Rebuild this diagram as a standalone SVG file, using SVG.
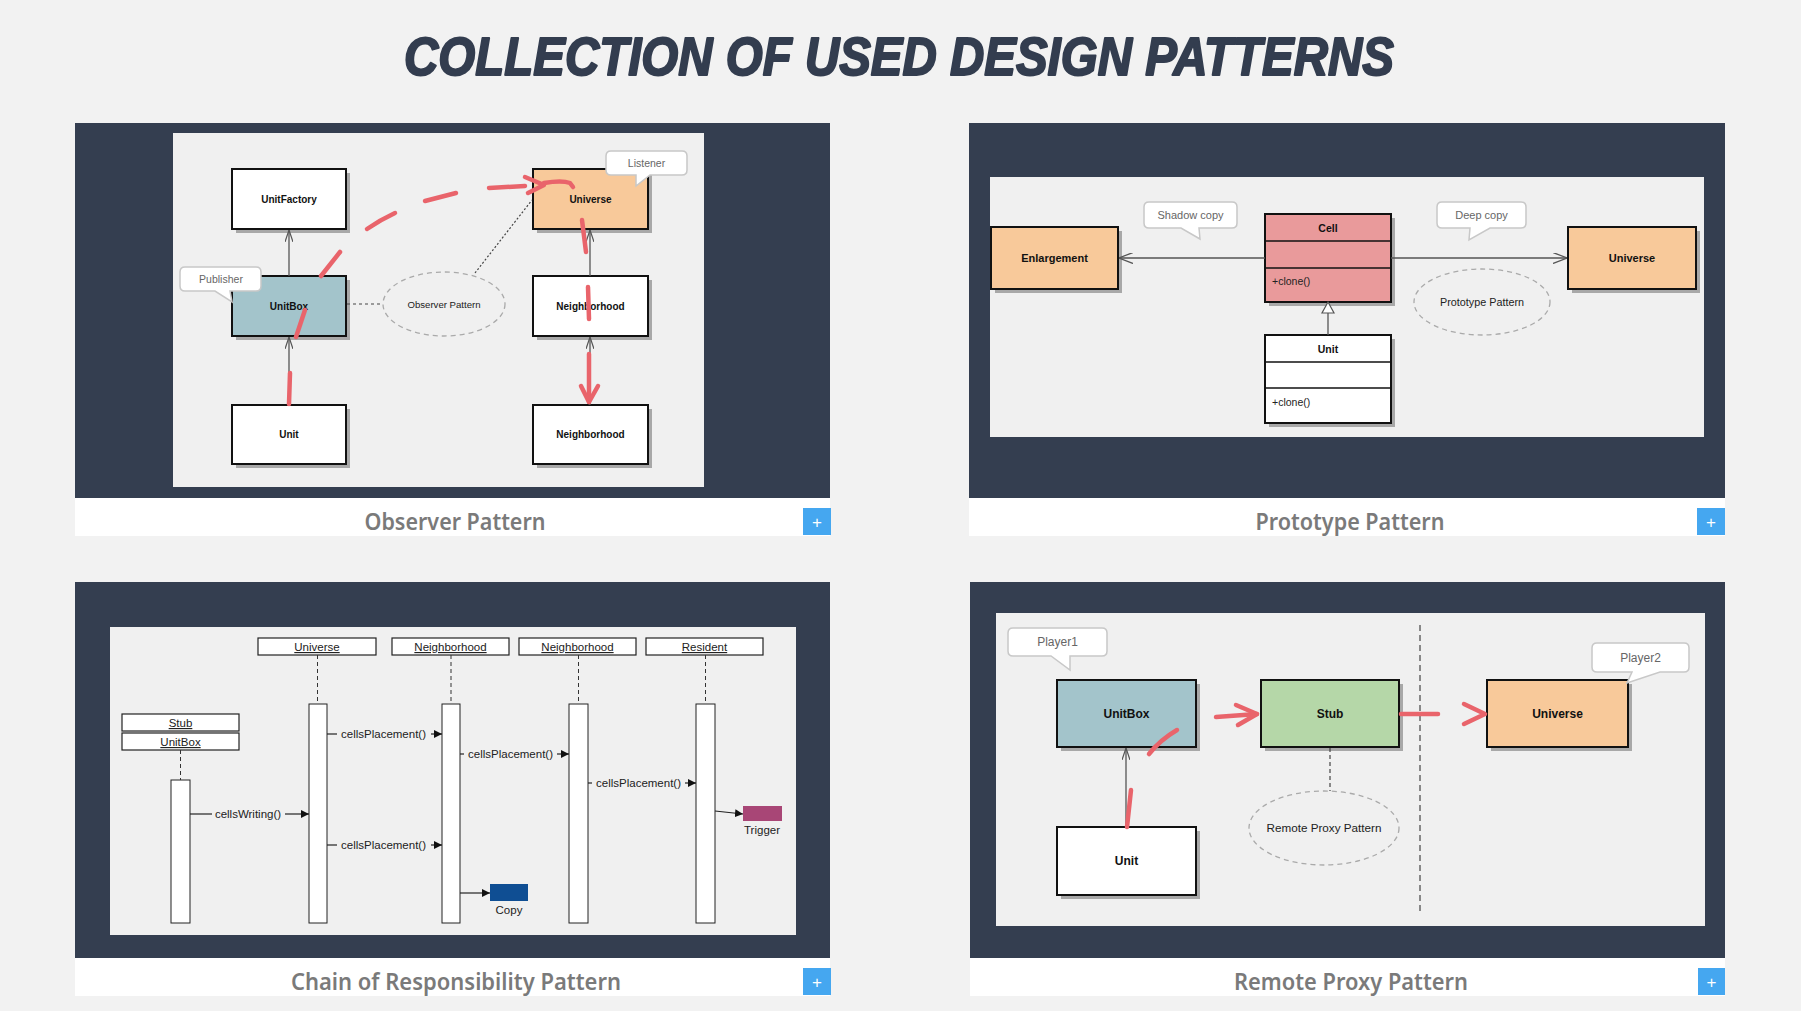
<svg xmlns="http://www.w3.org/2000/svg" width="1801" height="1011" viewBox="0 0 1801 1011">
<defs>
<style>
.panel{fill:#343e50}
.cap{fill:#ffffff}
.captxt{font-family:"Noto Sans","Open Sans",sans-serif;font-weight:600;font-size:23px;fill:#7a7a7a;text-anchor:middle}
.btn{fill:#45a7f0}
.btntxt{font-family:"Liberation Sans",sans-serif;font-size:17px;fill:#ffffff;text-anchor:middle}
.inner{fill:#f0f0f0}
.box{stroke:#111;stroke-width:2}
.shadow{fill:#a8a8a8}
.lbl{font-family:"Liberation Sans",Arial,sans-serif;font-weight:bold;fill:#111;text-anchor:middle}
.txt{font-family:"Liberation Sans",Arial,sans-serif;fill:#222}
.note{font-family:"Liberation Sans",Arial,sans-serif;fill:#666;text-anchor:middle}
.callout{fill:#ffffff;stroke:#c8c8c8;stroke-width:1.5}
.ell{fill:none;stroke:#aaaaaa;stroke-width:1.3;stroke-dasharray:5 4}
.conn{stroke:#555;stroke-width:1.3;fill:none}
.red{stroke:#e9646b;stroke-width:4.5;fill:none;stroke-linecap:round;stroke-linejoin:round}
.msg{stroke:#222;stroke-width:1.2;fill:none}
.life{stroke:#333;stroke-width:1;stroke-dasharray:4 3;fill:none}
.bar{fill:#ffffff;stroke:#222;stroke-width:1}
.hdr{fill:#ffffff;stroke:#222;stroke-width:1.2}
</style>
<marker id="open" viewBox="0 0 12 8" refX="12" refY="4" markerWidth="12" markerHeight="8" markerUnits="userSpaceOnUse" orient="auto"><path d="M0,0 L12,4 L0,8" fill="none" stroke="#555" stroke-width="1.2"/></marker>
<marker id="open2" viewBox="0 0 14 11" refX="14" refY="5.5" markerWidth="14" markerHeight="11" markerUnits="userSpaceOnUse" orient="auto"><path d="M0,0 L14,5.5 L0,11" fill="none" stroke="#555" stroke-width="1.3"/></marker>
<marker id="fill" viewBox="0 0 8 8" refX="8" refY="4" markerWidth="8" markerHeight="8" markerUnits="userSpaceOnUse" orient="auto"><path d="M0,0 L8,4 L0,8 Z" fill="#111"/></marker>
</defs>
<rect width="1801" height="1011" fill="#f2f2f2"/>
<text x="899" y="75" font-family="'Liberation Sans',Arial,sans-serif" font-weight="bold" font-style="italic" font-size="53" fill="#333d4f" stroke="#333d4f" stroke-width="2" stroke-linejoin="round" text-anchor="middle" textLength="990" lengthAdjust="spacingAndGlyphs">COLLECTION OF USED DESIGN PATTERNS</text>

<!-- Panel frames -->
<g id="panel-observer">
<rect class="panel" x="75" y="123" width="755" height="375"/>
<rect class="cap" x="75" y="498" width="755" height="38"/>
<text class="captxt" x="455" y="530" textLength="181" lengthAdjust="spacingAndGlyphs">Observer Pattern</text>
<rect class="btn" x="803" y="508" width="28" height="27"/>
<text class="btntxt" x="817" y="528">+</text>
<rect class="inner" x="173" y="133" width="531" height="354"/>
</g>
<g id="panel-prototype">
<rect class="panel" x="969" y="123" width="756" height="375"/>
<rect class="cap" x="969" y="498" width="756" height="38"/>
<text class="captxt" x="1350" y="530" textLength="189" lengthAdjust="spacingAndGlyphs">Prototype Pattern</text>
<rect class="btn" x="1697" y="508" width="28" height="27"/>
<text class="btntxt" x="1711" y="528">+</text>
<rect class="inner" x="990" y="177" width="714" height="260"/>
</g>
<g id="panel-chain">
<rect class="panel" x="75" y="582" width="755" height="376"/>
<rect class="cap" x="75" y="958" width="755" height="38"/>
<text class="captxt" x="456" y="990" textLength="330" lengthAdjust="spacingAndGlyphs">Chain of Responsibility Pattern</text>
<rect class="btn" x="803" y="968" width="28" height="27"/>
<text class="btntxt" x="817" y="988">+</text>
<rect class="inner" x="110" y="627" width="686" height="308"/>
</g>
<g id="panel-proxy">
<rect class="panel" x="970" y="582" width="755" height="376"/>
<rect class="cap" x="970" y="958" width="755" height="38"/>
<text class="captxt" x="1351" y="990" textLength="234" lengthAdjust="spacingAndGlyphs">Remote Proxy Pattern</text>
<rect class="btn" x="1698" y="968" width="27" height="27"/>
<text class="btntxt" x="1711.5" y="988">+</text>
<rect class="inner" x="996" y="613" width="709" height="313"/>
</g>

<!-- Observer nodes -->
<g id="obs-unitfactory"><rect class="shadow" x="236" y="173" width="114" height="60"/><rect class="box" x="232" y="169" width="114" height="60" fill="#fff"/><text class="lbl" x="289" y="203" font-size="10">UnitFactory</text></g>
<g id="obs-unitbox"><rect class="shadow" x="236" y="280" width="114" height="60"/><rect class="box" x="232" y="276" width="114" height="60" fill="#a3c4cb"/><text class="lbl" x="289" y="310" font-size="10">UnitBox</text></g>
<g id="obs-unit"><rect class="shadow" x="236" y="409" width="114" height="59"/><rect class="box" x="232" y="405" width="114" height="59" fill="#fff"/><text class="lbl" x="289" y="438" font-size="10">Unit</text></g>
<g id="obs-universe"><rect class="shadow" x="537" y="173" width="115" height="60"/><rect class="box" x="533" y="169" width="115" height="60" fill="#f8c99a"/><text class="lbl" x="590.5" y="203" font-size="10">Universe</text></g>
<g id="obs-neighborhood1"><rect class="shadow" x="537" y="280" width="115" height="60"/><rect class="box" x="533" y="276" width="115" height="60" fill="#fff"/><text class="lbl" x="590.5" y="310" font-size="10">Neighborhood</text></g>
<g id="obs-neighborhood2"><rect class="shadow" x="537" y="409" width="115" height="59"/><rect class="box" x="533" y="405" width="115" height="59" fill="#fff"/><text class="lbl" x="590.5" y="438" font-size="10">Neighborhood</text></g>
<g id="obs-pattern"><ellipse class="ell" cx="444" cy="304" rx="61" ry="32"/><text class="txt" x="444" y="307.5" font-size="9.6" text-anchor="middle">Observer Pattern</text></g>
<g id="obs-publisher"><path class="callout" d="M185,267 H256 Q261,267 261,272 V286 Q261,291 256,291 H230 L232,302 L215,291 H185 Q180,291 180,286 V272 Q180,267 185,267 Z"/><text class="note" x="221" y="283" font-size="10.5">Publisher</text></g>
<g id="obs-listener"><path class="callout" d="M611,151 H682 Q687,151 687,156 V170 Q687,175 682,175 H650 L636,186 L636,175 H611 Q606,175 606,170 V156 Q606,151 611,151 Z"/><text class="note" x="646.5" y="167" font-size="10.5">Listener</text></g>

<!-- Prototype nodes -->
<g id="pro-enlargement"><rect class="shadow" x="995" y="231" width="127" height="62"/><rect class="box" x="991" y="227" width="127" height="62" fill="#f8c99a"/><text class="lbl" x="1054.5" y="262" font-size="11">Enlargement</text></g>
<g id="pro-universe"><rect class="shadow" x="1572" y="231" width="128" height="62"/><rect class="box" x="1568" y="227" width="128" height="62" fill="#f8c99a"/><text class="lbl" x="1632" y="262" font-size="11">Universe</text></g>
<g id="pro-cell"><rect class="shadow" x="1269" y="218" width="126" height="88"/><rect class="box" x="1265" y="214" width="126" height="88" fill="#e99a9b"/><line x1="1265" y1="241" x2="1391" y2="241" stroke="#111" stroke-width="1.5"/><line x1="1265" y1="268" x2="1391" y2="268" stroke="#111" stroke-width="1.5"/><text class="lbl" x="1328" y="232" font-size="10.5">Cell</text><text class="txt" x="1272" y="285" font-size="10.5">+clone()</text></g>
<g id="pro-unit"><rect class="shadow" x="1269" y="339" width="126" height="88"/><rect class="box" x="1265" y="335" width="126" height="88" fill="#fff"/><line x1="1265" y1="362" x2="1391" y2="362" stroke="#111" stroke-width="1.5"/><line x1="1265" y1="388" x2="1391" y2="388" stroke="#111" stroke-width="1.5"/><text class="lbl" x="1328" y="353" font-size="10.5">Unit</text><text class="txt" x="1272" y="406" font-size="10.5">+clone()</text></g>
<g id="pro-pattern"><ellipse class="ell" cx="1482" cy="302" rx="68" ry="33"/><text class="txt" x="1482" y="306" font-size="10.8" text-anchor="middle">Prototype Pattern</text></g>
<g id="pro-shadowcopy"><path class="callout" d="M1149,202 H1232 Q1237,202 1237,207 V223 Q1237,228 1232,228 H1199 L1200,239 L1181,228 H1149 Q1144,228 1144,223 V207 Q1144,202 1149,202 Z"/><text class="note" x="1190.5" y="219" font-size="11">Shadow copy</text></g>
<g id="pro-deepcopy"><path class="callout" d="M1442,202 H1521 Q1526,202 1526,207 V223 Q1526,228 1521,228 H1490 L1469,240 L1470,228 H1442 Q1437,228 1437,223 V207 Q1437,202 1442,202 Z"/><text class="note" x="1481.5" y="219" font-size="11">Deep copy</text></g>

<!-- Chain nodes -->
<g id="ch-universe"><rect class="hdr" x="258" y="638" width="118" height="17"/><text class="txt" x="317" y="651" font-size="11.5" text-anchor="middle" text-decoration="underline">Universe</text><rect class="bar" x="309" y="704" width="18" height="219"/></g>
<g id="ch-neighborhood1"><rect class="hdr" x="392" y="638" width="117" height="17"/><text class="txt" x="450.5" y="651" font-size="11.5" text-anchor="middle" text-decoration="underline">Neighborhood</text><rect class="bar" x="442" y="704" width="18" height="219"/></g>
<g id="ch-neighborhood2"><rect class="hdr" x="519" y="638" width="117" height="17"/><text class="txt" x="577.5" y="651" font-size="11.5" text-anchor="middle" text-decoration="underline">Neighborhood</text><rect class="bar" x="569" y="704" width="19" height="219"/></g>
<g id="ch-resident"><rect class="hdr" x="646" y="638" width="117" height="17"/><text class="txt" x="704.5" y="651" font-size="11.5" text-anchor="middle" text-decoration="underline">Resident</text><rect class="bar" x="696" y="704" width="19" height="219"/></g>
<g id="ch-stub"><rect class="hdr" x="122" y="714" width="117" height="17"/><text class="txt" x="180.5" y="727" font-size="11.5" text-anchor="middle" text-decoration="underline">Stub</text><rect class="hdr" x="122" y="733" width="117" height="17"/><text class="txt" x="180.5" y="746" font-size="11.5" text-anchor="middle" text-decoration="underline">UnitBox</text><rect class="bar" x="171" y="780" width="19" height="143"/></g>
<g id="ch-copy"><rect x="490" y="884" width="38" height="17" fill="#0f4e93"/><text class="txt" x="509" y="914" font-size="11.5" text-anchor="middle">Copy</text></g>
<g id="ch-trigger"><rect x="743" y="806" width="39" height="15" fill="#a84676"/><text class="txt" x="762" y="834" font-size="11.5" text-anchor="middle">Trigger</text></g>

<!-- Proxy nodes -->
<g id="px-unitbox"><rect class="shadow" x="1061" y="684" width="139" height="67"/><rect class="box" x="1057" y="680" width="139" height="67" fill="#a3c4cb"/><text class="lbl" x="1126.5" y="718" font-size="12">UnitBox</text></g>
<g id="px-stub"><rect class="shadow" x="1265" y="684" width="138" height="67"/><rect class="box" x="1261" y="680" width="138" height="67" fill="#b5d7a8"/><text class="lbl" x="1330" y="718" font-size="12">Stub</text></g>
<g id="px-universe"><rect class="shadow" x="1491" y="684" width="141" height="67"/><rect class="box" x="1487" y="680" width="141" height="67" fill="#f8c99a"/><text class="lbl" x="1557.5" y="718" font-size="12">Universe</text></g>
<g id="px-unit"><rect class="shadow" x="1061" y="831" width="139" height="68"/><rect class="box" x="1057" y="827" width="139" height="68" fill="#fff"/><text class="lbl" x="1126.5" y="865" font-size="12">Unit</text></g>
<g id="px-pattern"><ellipse class="ell" cx="1324" cy="828" rx="75" ry="37"/><text class="txt" x="1324" y="832" font-size="11.7" text-anchor="middle">Remote Proxy Pattern</text></g>
<g id="px-player1"><path class="callout" d="M1013,628 H1102 Q1107,628 1107,633 V651 Q1107,656 1102,656 H1070 L1070,670 L1051,656 H1013 Q1008,656 1008,651 V633 Q1008,628 1013,628 Z"/><text class="note" x="1057.5" y="646" font-size="12">Player1</text></g>
<g id="px-player2"><path class="callout" d="M1597,643 H1684 Q1689,643 1689,648 V667 Q1689,672 1684,672 H1660 L1627,683 L1632,672 H1597 Q1592,672 1592,667 V648 Q1592,643 1597,643 Z"/><text class="note" x="1640.5" y="662" font-size="12">Player2</text></g>

<!-- Connectors -->
<g id="connectors">
<line class="conn" x1="289" y1="276" x2="289" y2="230" marker-end="url(#open)"/>
<line class="conn" x1="289" y1="405" x2="289" y2="337" marker-end="url(#open)"/>
<line class="conn" x1="590" y1="276" x2="590" y2="230" marker-end="url(#open)"/>
<line class="conn" x1="590" y1="405" x2="590" y2="337" marker-end="url(#open)"/>
<line x1="347" y1="304" x2="382" y2="304" stroke="#444" stroke-width="1.2" stroke-dasharray="3 3"/>
<line x1="475" y1="273" x2="532" y2="200" stroke="#444" stroke-width="1.2" stroke-dasharray="2 2"/>
<path class="red" d="M321,276 L340,252"/>
<path class="red" d="M367,229 Q380,220 395,213"/>
<path class="red" d="M425,201 L456,193"/>
<path class="red" d="M489,188 L525,186"/>
<path class="red" d="M525,177 L544,185 L528,193"/>
<path class="red" d="M544,183 Q562,180 570,183 L573,187"/>
<path class="red" d="M305,310 L296,337"/>
<path class="red" d="M290,373 L289,404"/>
<path class="red" d="M582,220 L586,252"/>
<path class="red" d="M588,287 L589,319"/>
<path class="red" d="M589,354 L589,402"/>
<path class="red" d="M581,386 L589,402 L598,386"/>

<line class="conn" x1="1265" y1="258" x2="1119" y2="258" marker-end="url(#open2)"/>
<line class="conn" x1="1391" y1="258" x2="1567" y2="258" marker-end="url(#open2)"/>
<line class="conn" x1="1328" y1="335" x2="1328" y2="313"/>
<polygon points="1328,302 1322,313 1334,313" fill="#fff" stroke="#555" stroke-width="1.2"/>

<line class="life" x1="317.5" y1="655" x2="317.5" y2="704"/>
<line class="life" x1="451" y1="655" x2="451" y2="704"/>
<line class="life" x1="578.5" y1="655" x2="578.5" y2="704"/>
<line class="life" x1="705.5" y1="655" x2="705.5" y2="704"/>
<line class="life" x1="180.5" y1="750" x2="180.5" y2="780"/>
<line class="msg" x1="190" y1="814" x2="212" y2="814"/>
<text class="txt" x="248" y="818" font-size="11.5" text-anchor="middle">cellsWriting()</text>
<line class="msg" x1="285" y1="814" x2="309" y2="814" marker-end="url(#fill)"/>
<line class="msg" x1="327" y1="734" x2="337" y2="734"/>
<text class="txt" x="383.5" y="738" font-size="11.5" text-anchor="middle">cellsPlacement()</text>
<line class="msg" x1="431" y1="734" x2="442" y2="734" marker-end="url(#fill)"/>
<line class="msg" x1="460" y1="754" x2="464" y2="754"/>
<text class="txt" x="510.5" y="758" font-size="11.5" text-anchor="middle">cellsPlacement()</text>
<line class="msg" x1="557" y1="754" x2="569" y2="754" marker-end="url(#fill)"/>
<line class="msg" x1="588" y1="783" x2="592" y2="783"/>
<text class="txt" x="638.5" y="787" font-size="11.5" text-anchor="middle">cellsPlacement()</text>
<line class="msg" x1="685" y1="783" x2="696" y2="783" marker-end="url(#fill)"/>
<line class="msg" x1="327" y1="845" x2="337" y2="845"/>
<text class="txt" x="383.5" y="849" font-size="11.5" text-anchor="middle">cellsPlacement()</text>
<line class="msg" x1="431" y1="845" x2="442" y2="845" marker-end="url(#fill)"/>
<line class="msg" x1="460" y1="893" x2="490" y2="893" stroke-width="1.6" marker-end="url(#fill)"/>
<line class="msg" x1="715" y1="811" x2="743" y2="814" marker-end="url(#fill)"/>

<line class="conn" x1="1126" y1="827" x2="1126" y2="748" marker-end="url(#open)"/>
<line x1="1420" y1="625" x2="1420" y2="912" stroke="#444" stroke-width="1.2" stroke-dasharray="6 4"/>
<line x1="1330" y1="748" x2="1330" y2="791" stroke="#444" stroke-width="1.2" stroke-dasharray="4 3"/>
<path class="red" d="M1177,730 Q1160,740 1149,754"/>
<path class="red" d="M1131,790 L1127,827"/>
<path class="red" d="M1216,717 L1257,714"/>
<path class="red" d="M1236,705 L1257,714 L1238,725"/>
<path class="red" d="M1401,714 L1438,714"/>
<path class="red" d="M1464,704 L1485,714 L1464,724"/>
</g>
</svg>
